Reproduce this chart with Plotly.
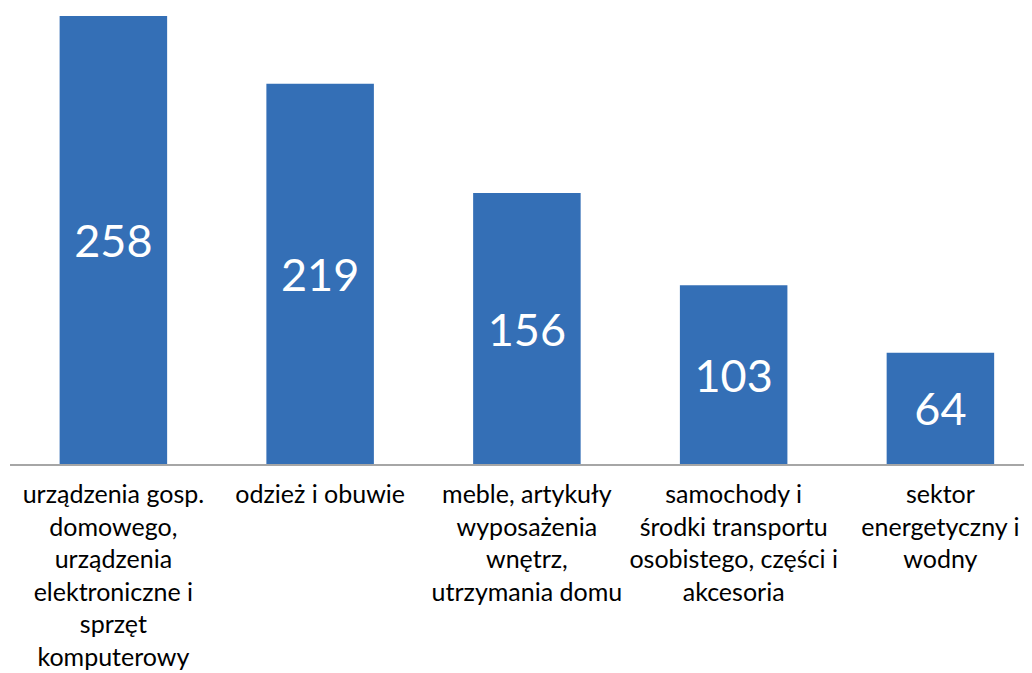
import plotly.graph_objects as go

categories = [
    "urządzenia gosp.<br>domowego,<br>urządzenia<br>elektroniczne i<br>sprzęt<br>komputerowy",
    "odzież i obuwie",
    "meble, artykuły<br>wyposażenia<br>wnętrz,<br>utrzymania domu",
    "samochody i<br>środki transportu<br>osobistego, części i<br>akcesoria",
    "sektor<br>energetyczny i<br>wodny",
]
values = [258, 219, 156, 103, 64]

fig = go.Figure(
    go.Bar(
        x=categories,
        y=values,
        width=0.52,
        marker=dict(color="#346FB6", line=dict(width=0)),
        text=[str(v) for v in values],
        textposition="inside",
        insidetextanchor="middle",
        textfont=dict(family="Lato", size=45, color="white"),
        hoverinfo="skip",
    )
)

fig.update_layout(
    width=1032,
    height=673,
    margin=dict(l=2, r=8, t=0, b=217),
    paper_bgcolor="white",
    plot_bgcolor="white",
    showlegend=False,
    font=dict(family="Lato", size=25, color="#000000"),
)
fig.update_xaxes(
    range=[-0.5, 4.443],
    showline=True,
    linecolor="#A6A6A6",
    linewidth=2,
    ticks="",
    showgrid=False,
    ticklabelstandoff=7,
    tickfont=dict(family="Lato", size=25, color="#000000"),
)
fig.update_yaxes(
    range=[0, 262.6],
    visible=False,
    showgrid=False,
)

fig.write_html("out.html")
